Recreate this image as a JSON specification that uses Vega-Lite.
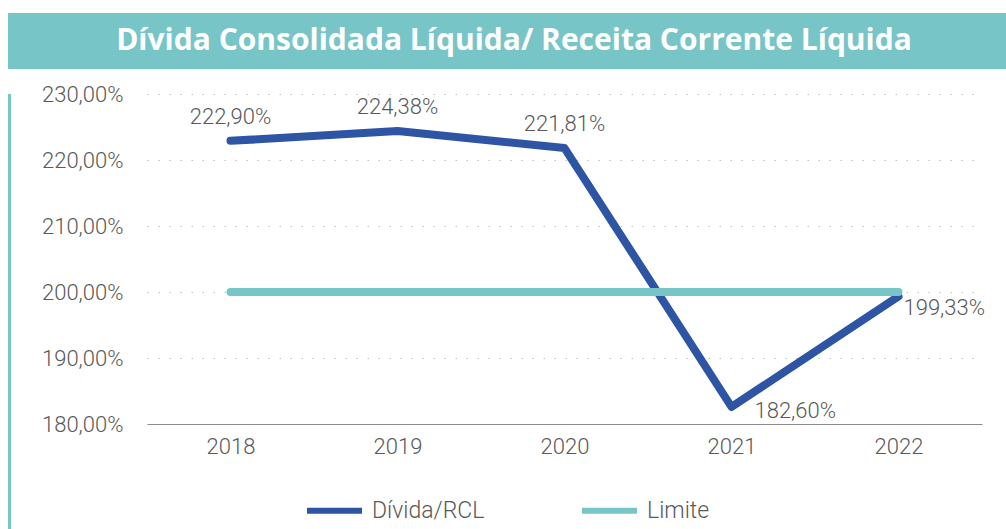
{
  "$schema": "https://vega.github.io/schema/vega-lite/v6.json",
  "background": "white",
  "padding": {"left": 8, "top": 13, "right": 0, "bottom": 0},
  "config": {
    "view": {"stroke": null},
    "font": "Roboto",
    "concat": {"spacing": 0}
  },
  "spacing": 14,
  "vconcat": [
    {
      "width": 998,
      "height": 56,
      "view": {"fill": "#78C5C8", "stroke": null},
      "data": {"values": [{"t": "Dívida Consolidada Líquida/ Receita Corrente Líquida"}]},
      "mark": {"type": "text", "font": "Open Sans", "fontWeight": "bold", "fontSize": 30, "color": "white", "align": "center", "baseline": "middle", "dx": 7},
      "encoding": {"text": {"field": "t"}}
    },
    {
      "spacing": 0,
      "hconcat": [
        {
          "width": 3,
          "height": 440,
          "view": {"fill": "#78C5C8", "stroke": null},
          "data": {"values": [{"t": ""}]},
          "mark": {"type": "text"},
          "encoding": {"text": {"field": "t"}}
        },
        {
          "width": 835,
          "height": 330,
          "data": {"values": [
            {"ano": 2018, "serie": "Dívida/RCL", "valor": 222.90},
            {"ano": 2019, "serie": "Dívida/RCL", "valor": 224.38},
            {"ano": 2020, "serie": "Dívida/RCL", "valor": 221.81},
            {"ano": 2021, "serie": "Dívida/RCL", "valor": 182.60},
            {"ano": 2022, "serie": "Dívida/RCL", "valor": 199.33},
            {"ano": 2018, "serie": "Limite", "valor": 200},
            {"ano": 2019, "serie": "Limite", "valor": 200},
            {"ano": 2020, "serie": "Limite", "valor": 200},
            {"ano": 2021, "serie": "Limite", "valor": 200},
            {"ano": 2022, "serie": "Limite", "valor": 200}
          ]},
          "transform": [
            {"calculate": "replace(format(datum.valor, '.2f'), '.', ',') + '%'", "as": "rotulo"}
          ],
          "encoding": {
            "x": {
              "field": "ano", "type": "ordinal",
              "scale": {"type": "point", "padding": 0.5},
              "axis": {"title": null, "labelAngle": 0, "ticks": false, "tickSize": 0, "grid": false,
                       "domainColor": "#8c8c8c", "domainWidth": 1,
                       "labelFontSize": 22, "labelColor": "#595959", "labelFontWeight": 300, "labelPadding": 12}
            },
            "y": {
              "field": "valor", "type": "quantitative",
              "scale": {"domain": [180, 230], "nice": false, "zero": false},
              "axis": {"title": null, "values": [180, 190, 200, 210, 220, 230],
                       "labelExpr": "replace(format(datum.value, '.2f'), '.', ',') + '%'",
                       "domain": false, "ticks": false, "tickSize": 0, "labelPadding": 24,
                       "labelFontSize": 22, "labelColor": "#595959", "labelFontWeight": 300,
                       "gridColor": "#bfbfbf", "gridDash": [1.5, 9.5], "gridWidth": 1.2,
                       "minExtent": 136, "maxExtent": 136}
            }
          },
          "layer": [
            {
              "mark": {"type": "line", "strokeWidth": 8, "strokeCap": "round", "strokeJoin": "round"},
              "encoding": {
                "color": {
                  "field": "serie", "type": "nominal",
                  "scale": {"domain": ["Dívida/RCL", "Limite"], "range": ["#2E54A4", "#78C5C8"]},
                  "legend": {"title": null, "orient": "none", "legendX": 296, "legendY": 467,
                             "direction": "horizontal", "symbolType": "stroke", "symbolSize": 3025,
                             "symbolStrokeWidth": 6, "labelFontSize": 23, "labelColor": "#595959",
                             "labelFontWeight": 300, "columnPadding": 85, "labelOffset": 7}
                }
              }
            },
            {
              "transform": [{"filter": "datum.serie == 'Dívida/RCL' && datum.ano <= 2020"}],
              "mark": {"type": "text", "align": "center", "baseline": "middle", "dy": -24, "fontSize": 22, "fontWeight": 300, "color": "#595959"},
              "encoding": {"text": {"field": "rotulo"}}
            },
            {
              "transform": [{"filter": "datum.serie == 'Dívida/RCL' && datum.ano == 2021"}],
              "mark": {"type": "text", "align": "left", "baseline": "middle", "dx": 23, "dy": 4, "fontSize": 22, "fontWeight": 300, "color": "#595959"},
              "encoding": {"text": {"field": "rotulo"}}
            },
            {
              "transform": [{"filter": "datum.serie == 'Dívida/RCL' && datum.ano == 2022"}],
              "mark": {"type": "text", "align": "left", "baseline": "middle", "dx": 5, "dy": 12, "fontSize": 22, "fontWeight": 300, "color": "#595959"},
              "encoding": {"text": {"field": "rotulo"}}
            }
          ]
        }
      ]
    }
  ]
}
